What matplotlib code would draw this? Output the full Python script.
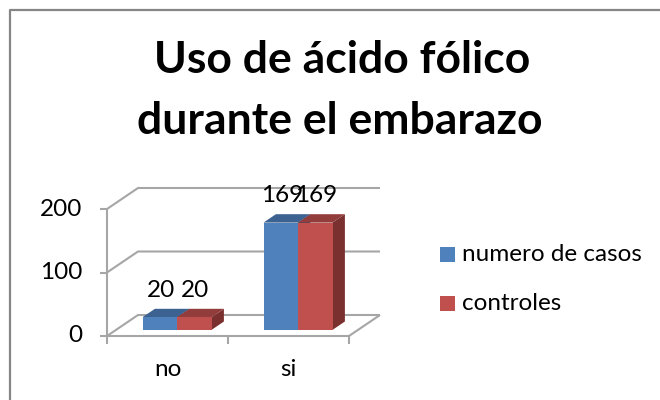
import matplotlib.pyplot as plt
from matplotlib.lines import Line2D
from matplotlib.patches import Polygon, Rectangle

plt.rcParams['font.family'] = ['Lato', 'DejaVu Sans']

categories = ['no', 'si']
casos = [20, 169]
controles = [20, 169]
series_names = ['numero de casos', 'controles']
yticks = [0, 100, 200]

W, H = 660., 400.
fig = plt.figure(figsize=(6.6, 4), dpi=100)
ax = fig.add_axes([107 / W, 1 - 336 / H, 242 / W, 127 / H])
ax.set_xlim(0, 2)
ax.set_ylim(0, 200)
ax.axis('off')

# oblique projection, depth 1 = from front of the floor to the back wall
DX = 31 / 121.
DY = 21 / 0.635


def proj(x, y, d):
    return x + d * DX, y + d * DY


def wall_line(pts, **kw):
    xs, ys = zip(*pts)
    ax.plot(xs, ys, clip_on=False, solid_capstyle='butt', **kw)


grid = dict(color='#a6a6a6', lw=1.5, zorder=1)
for t in yticks:
    # gridline on the side wall and on the back wall
    wall_line([proj(0, t, 0), proj(0, t, 1), proj(2, t, 1)], **grid)
    wall_line([(0, t), (-7 / 121., t)], **grid)
wall_line([proj(2, 0, 1), proj(2, 0, 0), proj(0, 0, 0)], **grid)
wall_line([(0, 0), (0, 200)], **grid)
for i in range(3):
    wall_line([(i, 0), (i, -8 / 0.635)], **grid)

for i, t in enumerate(yticks):
    ax.text(-25 / 121., t, str(t), ha='right', va='center', fontsize=17.5,
            color='k', clip_on=False)
for i, c in enumerate(categories):
    ax.text(i + 0.5, -34 / 0.635, c, ha='center', va='center', fontsize=17.5)

###############################################################################
# the bars, front face + top + side

D0 = 0.29
D1 = 0.69
BW = 34.5 / 121.
colors = [('#4f81bd', '#3c6291', '#2f4d72'), ('#c0504d', '#923d3b', '#7a302e')]

for s, vals in enumerate([casos, controles]):
    front, top, side = colors[s]
    for i, v in enumerate(vals):
        x0 = i + 0.5 - BW + s * BW + 9.5 / 121.
        x1 = x0 + BW
        y0 = D0 * DY
        y1 = y0 + v
        dx = (D1 - D0) * DX
        dy = (D1 - D0) * DY
        ax.add_patch(Polygon([(x1, y0), (x1 + dx, y0 + dy), (x1 + dx, y1 + dy),
                              (x1, y1)], fc=side, ec='none', zorder=3,
                             clip_on=False))
        ax.add_patch(Polygon([(x0, y1), (x0 + dx, y1 + dy), (x1 + dx, y1 + dy),
                              (x1, y1)], fc=top, ec='none', zorder=3,
                             clip_on=False))
        ax.add_patch(Rectangle((x0, y0), BW, v, fc=front, ec='none', zorder=4,
                               clip_on=False))
        ax.text((x0 + x1) / 2 + 1 / 121., y1 + 27 / 0.635, str(v), ha='center',
                va='center', fontsize=17.5, color='k', zorder=5, clip_on=False)

fig.text(342 / W, 1 - 60 / H, 'Uso de ácido fólico', ha='center', va='center',
         fontsize=32, fontweight='bold')
fig.text(340 / W, 1 - 121 / H, 'durante el embarazo', ha='center', va='center',
         fontsize=32, fontweight='bold')

# legend by hand, the swatches sit apart from the default layout
for name, (front, _, _), y in zip(series_names, colors, [254.5, 303.5]):
    fig.patches.append(Rectangle((440 / W, 1 - (y + 7.5) / H), 15 / W, 15 / H,
                                 fc=front, ec='none',
                                 transform=fig.transFigure, figure=fig))
    fig.text(462 / W, 1 - y / H, name, ha='left', va='center', fontsize=17.5)

# chart frame, only left and top fall inside the crop
frame_x = [10 / W, 10 / W, 1]
frame_y = [0, 1 - 10 / H, 1 - 10 / H]
fig.add_artist(Line2D(frame_x, frame_y, color='#868686', lw=1.6,
                      transform=fig.transFigure))

fig.savefig('out.png', dpi=100)
